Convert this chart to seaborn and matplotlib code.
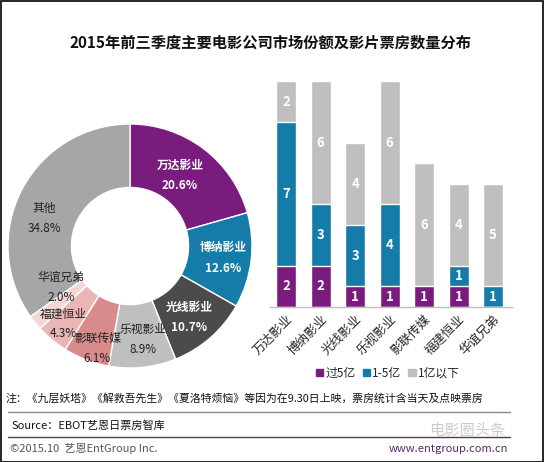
import numpy as np
import pandas as pd
import matplotlib
matplotlib.use("Agg")
import matplotlib.pyplot as plt
from matplotlib.patches import Patch
from matplotlib.lines import Line2D
import seaborn as sns

# donut data (market share, %)
pie_names = ['万达影业', '博纳影业', '光线影业', '乐视影业', '影联传媒', '福建恒业', '华谊兄弟', '其他']
pie_share = [20.6, 12.6, 10.7, 8.9, 6.1, 4.3, 2.0, 34.8]

# bar data (number of films per box office band)
companies = ['万达影业', '博纳影业', '光线影业', '乐视影业', '影联传媒', '福建恒业', '华谊兄弟']
over5 = [2, 2, 1, 1, 1, 1, 0]       # 过5亿
mid1to5 = [7, 3, 3, 4, 0, 1, 1]     # 1-5亿
under1 = [2, 6, 4, 6, 6, 4, 5]      # 1亿以下
band_names = ['过5亿', '1-5亿', '1亿以下']

sns.set_theme(style="white")
plt.rcParams['font.family'] = ['Noto Sans CJK SC', 'DejaVu Sans']

PURPLE = '#7A1B7E'
BLUE = '#157CA9'
LGRAY = '#BFBFBF'
pie_colors = [PURPLE, BLUE, '#4B4B4B', '#BFBFBF', '#D98B8B', '#E9B5B5', '#F3D7D7', '#A6A6A6']
white_lbl = [True, True, True, False, False, False, False, False]
# label placement: radius (fraction of outer radius) and angle nudge in degrees
lbl_r = [0.71, 0.77, 0.76, 0.77, 0.88, 0.84, 0.66, 0.74]
lbl_nudge = [1.9, -0.5, -1.9, 1.8, 3.4, -0.7, -7.7, 9.4]

W, H = 544, 462
fig = plt.figure(figsize=(W / 100, H / 100), dpi=100)

# ---- donut ----
cx, cy, R = 130, 246, 122
axp = fig.add_axes([(cx - R) / W, (H - cy - R) / H, 2 * R / W, 2 * R / H])
wedges, _ = axp.pie(pie_share, colors=pie_colors, startangle=90, counterclock=False,
                    radius=1, wedgeprops=dict(width=0.52, edgecolor='white', linewidth=1))
axp.set_xlim(-1, 1)
axp.set_ylim(-1, 1)
axp.set_aspect('equal')
axp.axis('off')
for i, w in enumerate(wedges):
    ang = np.deg2rad((w.theta1 + w.theta2) / 2 + lbl_nudge[i])
    x, y = lbl_r[i] * np.cos(ang), lbl_r[i] * np.sin(ang)
    col = 'white' if white_lbl[i] else '#222222'
    wt = 'bold' if white_lbl[i] else 'normal'
    axp.text(x, y + 0.082, pie_names[i], ha='center', va='center', color=col, fontsize=8.5, fontweight=wt)
    axp.text(x, y - 0.082, f'{pie_share[i]:.1f}%', ha='center', va='center', color=col, fontsize=8.5, fontweight=wt)

# ---- stacked bars ----
x0, x1, yb, yt = 270, 512, 307, 81
axb = fig.add_axes([x0 / W, (H - yb) / H, (x1 - x0) / W, (yb - yt) / H])
df = pd.DataFrame({'company': companies, 'over5': over5, 'mid': mid1to5, 'under1': under1})
df['total'] = df['over5'] + df['mid'] + df['under1']
df['lower2'] = df['over5'] + df['mid']
sns.barplot(data=df, x='company', y='total', order=companies, color=LGRAY, width=0.58,
            saturation=1, ax=axb)
sns.barplot(data=df, x='company', y='lower2', order=companies, color=BLUE, width=0.58,
            saturation=1, ax=axb)
sns.barplot(data=df, x='company', y='over5', order=companies, color=PURPLE, width=0.58,
            saturation=1, ax=axb)
for i in range(len(companies)):
    segs = [(0, over5[i]), (over5[i], mid1to5[i]), (over5[i] + mid1to5[i], under1[i])]
    for b, h in segs:
        if h > 0:
            axb.text(i, b + h / 2, str(h), ha='center', va='center', color='white',
                     fontsize=9.5, fontweight='bold')
axb.set_xlim(-0.47, 6.55)
axb.set_ylim(0, 11)
axb.set_xlabel('')
axb.set_ylabel('')
axb.set_yticks([])
axb.set_xticklabels(companies, rotation=45, ha='right', rotation_mode='anchor', fontsize=9)
axb.tick_params(axis='x', length=0, pad=4)
for s in ['top', 'right', 'left']:
    axb.spines[s].set_visible(False)
axb.spines['bottom'].set_color('#BFBFBF')
axb.spines['bottom'].set_linewidth(1)

handles = [Patch(color=c) for c in [PURPLE, BLUE, LGRAY]]
fig.legend(handles, band_names, loc='center', bbox_to_anchor=(388 / W, 1 - 373 / H), ncol=3,
           frameon=False, fontsize=8.5, handlelength=0.6, handleheight=0.6, handletextpad=0.2,
           columnspacing=0.6)

# ---- texts & frame ----
fig.text(270 / W, 1 - 43 / H, '2015年前三季度主要电影公司市场份额及影片票房数量分布', ha='center',
         va='center', fontsize=11, fontweight='bold', color='#111111')
fig.text(6 / W, 1 - 398 / H, '注：《九层妖塔》《解救吾先生》《夏洛特烦恼》等因为在9.30日上映，票房统计含当天及点映票房',
         ha='left', va='center', fontsize=7.8, color='#111111')
fig.text(12 / W, 1 - 426 / H, 'Source：EBOT艺恩日票房智库', ha='left', va='center', fontsize=8,
         color='#111111')
fig.text(10 / W, 1 - 449 / H, '©2015.10  艺恩EntGroup Inc.', ha='left', va='center', fontsize=8,
         color='#555555')
fig.text(508 / W, 1 - 449 / H, 'www.entgroup.com.cn', ha='right', va='center', fontsize=8,
         color='#5B2A68')
fig.text(505 / W, 1 - 431 / H, '电影圈头条', ha='right', va='center', fontsize=11, color='#CCCCCC')
fig.add_artist(Line2D([8 / W, 510 / W], [1 - 412 / H, 1 - 412 / H], color='#7F8E8E', lw=1))
fig.add_artist(Line2D([8 / W, 510 / W], [1 - 437 / H, 1 - 437 / H], color='#6B2A6F', lw=1))
fig.add_artist(plt.Rectangle((0.001, 0.001), 0.998, 0.997, fill=False, edgecolor='black', lw=1.2,
                             transform=fig.transFigure))

fig.savefig('out.png', dpi=100)
